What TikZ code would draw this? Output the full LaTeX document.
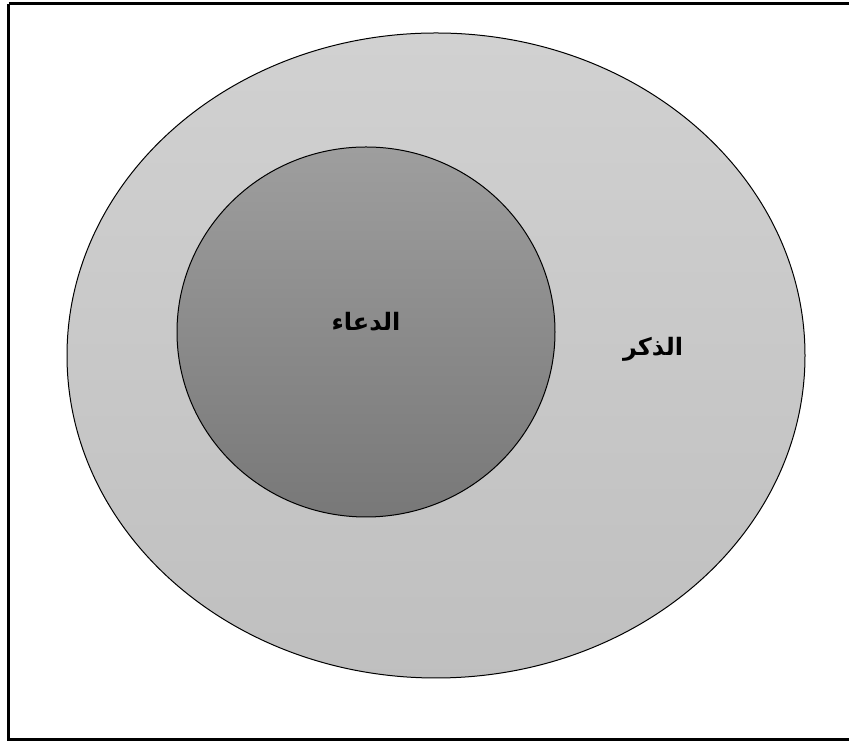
\documentclass[tikz,border=0pt]{standalone}
\usepackage{fontspec}
\TeXXeTstate=1
\newfontfamily\arabicfont[Script=Arabic]{DejaVu Sans}
\begin{document}
\begin{tikzpicture}[x=1pt,y=1pt,
  lbl/.style={font=\arabicfont\bfseries\fontsize{24}{28}\selectfont, inner sep=0pt},
  ring/.style={draw=black, line width=1pt}]
\useasboundingbox (0,0) rectangle (849,743);
\fill[white] (0,0) rectangle (849,743);
% frame
\draw[line width=3pt] (8.5,739) -- (855,739);
\draw[line width=3pt] (8.5,739) -- (8.5,3);
\draw[line width=3pt] (7,3.5) -- (855,3.5);
% outer ellipse
\shade[top color=black!18, bottom color=black!25] (436,387.5) ellipse [x radius=369, y radius=322.5];
\draw[ring] (436,387.5) ellipse [x radius=369, y radius=322.5];
% inner circle
\shade[top color=black!38, bottom color=black!53] (366,411) ellipse [x radius=189, y radius=185];
\draw[ring] (366,411) ellipse [x radius=189, y radius=185];
\node[lbl] (duaa) at (366,421) {\beginR الدعاء\endR};
\node[lbl] (dhikr) at (653,394) {\beginR الذكر\endR};
\end{tikzpicture}
\end{document}
